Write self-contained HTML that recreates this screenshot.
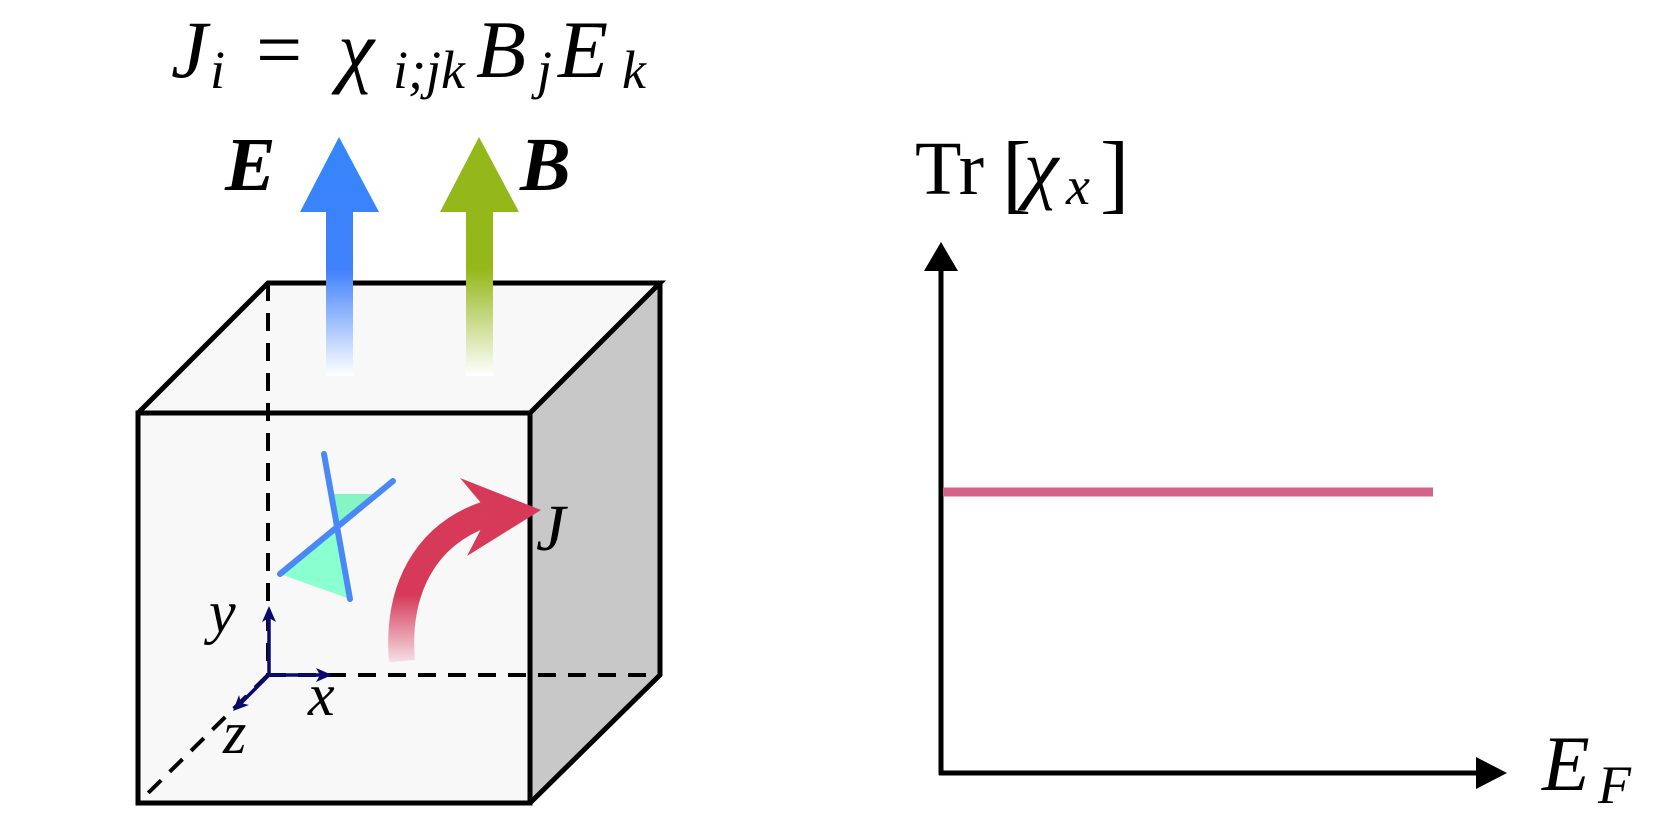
<!DOCTYPE html>
<html><head><meta charset="utf-8"><style>
html,body{margin:0;padding:0;background:#fff;}
svg{display:block;}
text{font-family:"Liberation Serif",serif;}
</style></head><body>
<svg width="1661" height="833" viewBox="0 0 1661 833" xmlns="http://www.w3.org/2000/svg">
<defs>
<linearGradient id="gE" x1="0" y1="0" x2="0" y2="1"><stop offset="0" stop-color="#3486fb"/><stop offset="0.55" stop-color="#4080fb"/><stop offset="1" stop-color="#ffffff"/></linearGradient>
<linearGradient id="gB" x1="0" y1="0" x2="0" y2="1"><stop offset="0" stop-color="#94b719"/><stop offset="0.55" stop-color="#94b719"/><stop offset="1" stop-color="#ffffff"/></linearGradient>
<linearGradient id="gJ" x1="0" y1="1" x2="0" y2="0"><stop offset="0" stop-color="#f3dde3"/><stop offset="0.45" stop-color="#d63a58"/><stop offset="1" stop-color="#d63a58"/></linearGradient>
</defs>
<polygon points="138,413 268,283 660,283 530,413" fill="#f8f8f8"/>
<polygon points="530,413 660,283 660,675 530,803" fill="#c8c8c8"/>
<rect x="138" y="413" width="392" height="390" fill="#f8f8f8"/>
<g stroke="#000" stroke-width="4" stroke-dasharray="18,12" fill="none">
<line x1="268" y1="283" x2="268" y2="675"/>
<line x1="268" y1="675" x2="660" y2="675"/>
<line x1="268" y1="675" x2="138" y2="803"/>
</g>
<g stroke="#000" stroke-width="5" fill="none" stroke-linejoin="miter">
<polygon points="138,413 530,413 530,803 138,803"/>
<polyline points="138,413 268,283 660,283 530,413"/>
<polyline points="660,283 660,675 530,803"/>
</g>
<polygon points="339,137 379,212 353,212 353,376 326,376 326,212 300,212" fill="url(#gE)"/>
<polygon points="479,137 519,212 493,212 493,376 466,376 466,212 440,212" fill="url(#gB)"/>
<polygon points="334,494 372,494 337,528" fill="#86f5c4"/>
<polygon points="280,574 337,528 350,599" fill="#8affd0"/>
<line x1="324" y1="454" x2="350" y2="599" stroke="#4a88f5" stroke-width="6" stroke-linecap="round"/>
<line x1="280" y1="574" x2="393" y2="481" stroke="#4a88f5" stroke-width="6" stroke-linecap="round"/>
<path d="M402 661 C 396 590, 425 535, 486 514" fill="none" stroke="url(#gJ)" stroke-width="26"/>
<polygon points="460,478 541,510 467,556 480,531 486,514 481,503" fill="#d63a58"/>
<g stroke="#0a0a6e" stroke-width="3.5" fill="none">
<line x1="269" y1="675" x2="269" y2="610"/>
<line x1="269" y1="675" x2="328" y2="675"/>
<line x1="269" y1="675" x2="236" y2="708"/>
</g>
<g fill="#0a0a6e">
<polygon points="269,606 262,622 269,618 276,622"/>
<polygon points="332,675 316,668 320,675 316,682"/>
<polygon points="233,711 239,695 241,703 249,705"/>
</g>
<!-- formula -->
<g font-style="italic">
<text x="171" y="77" font-size="82">J</text>
<text x="210" y="88" font-size="54">i</text>
<text x="256" y="77" font-size="82" font-style="normal">=</text>
<text x="338" y="77" font-size="82">χ</text>
<text x="393" y="88" font-size="54">i;jk</text>
<text x="476" y="77" font-size="82">B</text>
<text x="537" y="88" font-size="54">j</text>
<text x="558" y="77" font-size="82">E</text>
<text x="622" y="88" font-size="54">k</text>
</g>
<text x="225" y="190" font-size="76" font-style="italic" font-weight="bold">E</text>
<text x="520" y="190" font-size="76" font-style="italic" font-weight="bold">B</text>
<text x="536" y="550" font-size="66" font-style="italic">J</text>
<text x="209" y="632" font-size="60" font-style="italic">y</text>
<text x="308" y="715" font-size="60" font-style="italic">x</text>
<text x="223" y="753" font-size="60" font-style="italic">z</text>
<!-- graph -->
<line x1="941" y1="265" x2="941" y2="775" stroke="#000" stroke-width="5"/>
<polygon points="941,242 924,271 958,271" fill="#000"/>
<line x1="939" y1="773" x2="1480" y2="773" stroke="#000" stroke-width="5"/>
<polygon points="1507,773 1476,757 1476,789" fill="#000"/>
<line x1="943" y1="492" x2="1433" y2="492" stroke="#d46389" stroke-width="9"/>
<text x="915" y="194" font-size="76">Tr</text>
<text x="1002" y="202" font-size="88">[</text>
<text x="1024" y="194" font-size="78" font-style="italic">χ</text>
<text x="1066" y="204" font-size="54" font-style="italic">x</text>
<text x="1100" y="202" font-size="88">]</text>
<text x="1542" y="790" font-size="78" font-style="italic">E</text>
<text x="1598" y="803" font-size="54" font-style="italic">F</text>
</svg>
</body></html>
